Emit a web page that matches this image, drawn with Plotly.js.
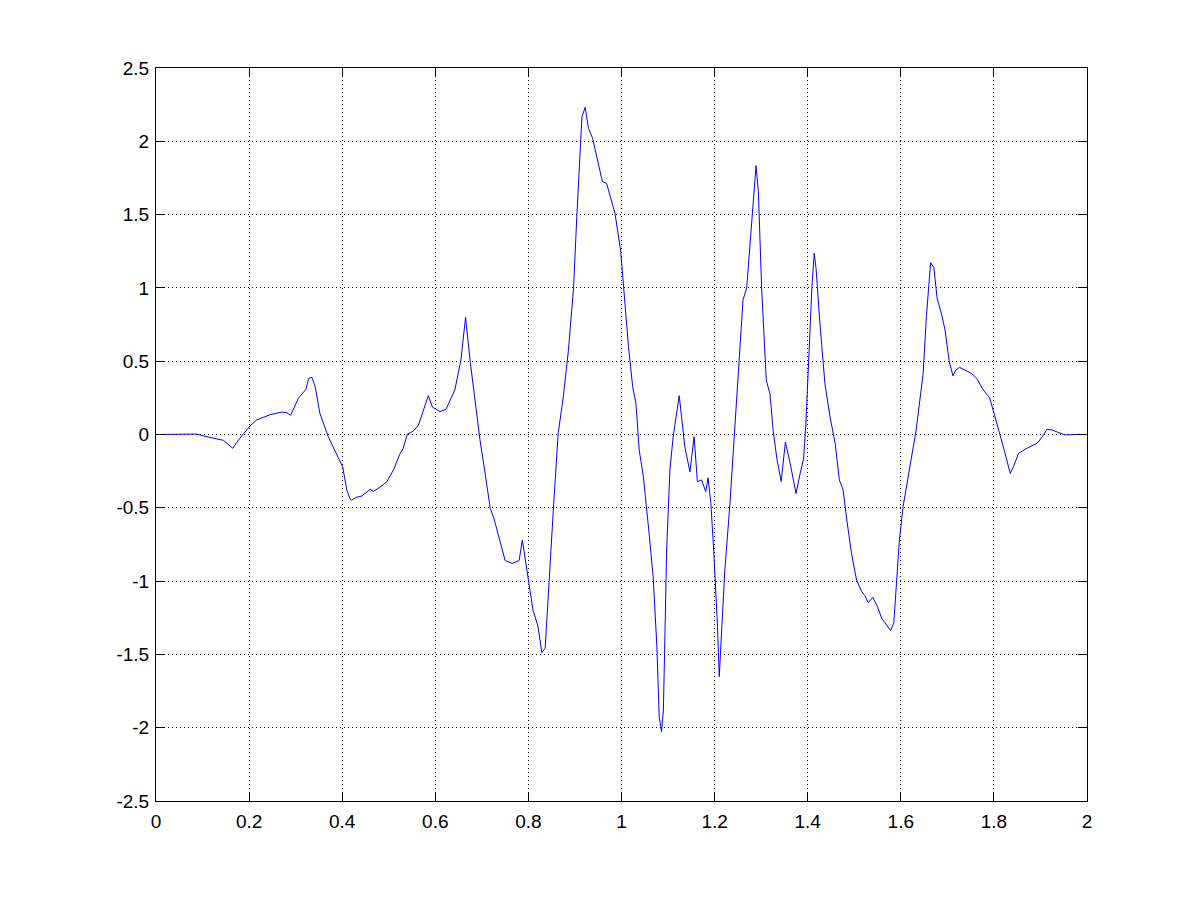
<!DOCTYPE html>
<html>
<head>
<meta charset="utf-8">
<script src="https://cdn.plot.ly/plotly-3.0.1.min.js"></script>
<style>
  html, body { margin: 0; padding: 0; background: #fff; }
  #graph-container { width: 1201px; height: 901px; }
</style>
</head>
<body>
<div id="graph-container"></div>
<script>
// signal samples
const timeVals = [
    0, 0.03, 0.066, 0.087, 0.116, 0.145, 0.165, 0.180, 0.202, 0.216,
    0.245, 0.270, 0.281, 0.289, 0.306, 0.322, 0.328, 0.335, 0.342, 0.352,
    0.370, 0.388, 0.401, 0.410, 0.417, 0.420, 0.431, 0.442, 0.460, 0.467,
    0.481, 0.496, 0.510, 0.524, 0.531, 0.540, 0.553, 0.564, 0.574, 0.585,
    0.594, 0.610, 0.623, 0.642, 0.655, 0.665, 0.675, 0.685, 0.696, 0.707,
    0.718, 0.726, 0.740, 0.750, 0.765, 0.780, 0.787, 0.800, 0.810, 0.820,
    0.825, 0.829, 0.836, 0.843, 0.854, 0.864, 0.875, 0.886, 0.897, 0.904,
    0.915, 0.922, 0.929, 0.938, 0.948, 0.959, 0.968, 0.982, 0.986, 0.998,
    1.005, 1.015, 1.024, 1.031, 1.038, 1.047, 1.060, 1.068, 1.076, 1.081,
    1.086, 1.090, 1.097, 1.104, 1.111, 1.124, 1.136, 1.147, 1.156, 1.163,
    1.172, 1.181, 1.186, 1.192, 1.198, 1.206, 1.210, 1.213, 1.222, 1.233,
    1.247, 1.261, 1.269, 1.280, 1.289, 1.294, 1.301, 1.311, 1.319, 1.326,
    1.334, 1.343, 1.352, 1.362, 1.375, 1.384, 1.391, 1.396, 1.401, 1.409,
    1.414, 1.418, 1.426, 1.437, 1.448, 1.459, 1.468, 1.476, 1.484, 1.494,
    1.505, 1.516, 1.523, 1.530, 1.540, 1.550, 1.559, 1.568, 1.578, 1.585,
    1.591, 1.597, 1.605, 1.620, 1.633, 1.648, 1.655, 1.664, 1.671, 1.678,
    1.688, 1.695, 1.704, 1.712, 1.717, 1.726, 1.738, 1.752, 1.763, 1.777,
    1.791, 1.802, 1.813, 1.824, 1.835, 1.842, 1.853, 1.871, 1.893, 1.904,
    1.914, 1.925, 1.936, 1.953, 1.979, 2.0
];
const signalVals = [
    0, 0.0, 0.003, 0.003, -0.02, -0.04, -0.094, -0.026, 0.058, 0.099,
    0.135, 0.153, 0.149, 0.131, 0.247, 0.308, 0.383, 0.390, 0.326, 0.145,
    -0.015, -0.14, -0.22, -0.38, -0.44, -0.447, -0.428, -0.42, -0.374, -0.388,
    -0.36, -0.322, -0.242, -0.133, -0.094, 0.003, 0.024, 0.065, 0.156, 0.265,
    0.186, 0.156, 0.172, 0.304, 0.508, 0.80, 0.497, 0.235, -0.037, -0.265,
    -0.503, -0.572, -0.75, -0.86, -0.88, -0.86, -0.72, -1.0, -1.2, -1.3,
    -1.425, -1.488, -1.458, -1.06, -0.49, 0.008, 0.258, 0.575, 1.0, 1.486,
    2.168, 2.232, 2.089, 2.02, 1.872, 1.724, 1.713, 1.566, 1.509, 1.258,
    0.986, 0.6, 0.326, 0.213, -0.106, -0.288, -0.697, -0.97, -1.447, -1.925,
    -2.027, -1.88, -0.788, -0.242, -0.015, 0.265, -0.083, -0.254, -0.015, -0.322,
    -0.31, -0.39, -0.295, -0.47, -0.788, -1.288, -1.652, -1.447, -0.924, -0.47,
    0.19, 0.917, 1.002, 1.471, 1.834, 1.658, 1.002, 0.370, 0.276, 0.019,
    -0.169, -0.321, -0.052, -0.192, -0.403, -0.262, -0.169, 0.066, 0.44, 1.002,
    1.237, 1.131, 0.768, 0.347, 0.12, -0.06, -0.31, -0.378, -0.583, -0.81,
    -0.993, -1.072, -1.10, -1.147, -1.111, -1.175, -1.254, -1.293, -1.338, -1.284,
    -0.993, -0.72, -0.49, -0.2, 0.031, 0.417, 0.804, 1.172, 1.14, 0.929,
    0.815, 0.713, 0.5, 0.40, 0.435, 0.458, 0.44, 0.417, 0.383, 0.304,
    0.25, 0.127, -0.01, -0.128, -0.265, -0.22, -0.128, -0.094, -0.06, -0.015,
    0.035, 0.031, 0.017, -0.003, 0.001, 0
];
const xTicks = [0, 0.2, 0.4, 0.6, 0.8, 1, 1.2, 1.4, 1.6, 1.8, 2];
const yTicks = [-2.5, -2, -1.5, -1, -0.5, 0, 0.5, 1, 1.5, 2, 2.5];

function axisStyle(ticks, range, standoff) {
    return {
        range: range,
        tickmode: 'array',
        tickvals: ticks,
        ticktext: ticks.map(String),
        ticks: 'inside',
        ticklen: 9,
        tickcolor: '#000',
        ticklabelstandoff: standoff,
        showline: true,
        linecolor: '#000',
        linewidth: 1,
        mirror: 'allticks',
        showgrid: true,
        gridcolor: '#000',
        gridwidth: 1,
        griddash: '1px,3px',
        zeroline: false,
        tickfont: {family: 'Liberation Sans, Arial, sans-serif', size: 19, color: '#000'}
    };
}

function createSignalGraph() {
    const trace = {
        x: timeVals,
        y: signalVals,
        type: 'scatter',
        mode: 'lines',
        line: {color: '#0000ff', width: 1},
        hoverinfo: 'none'
    };

    const layout = {
        width: 1201,
        height: 901,
        margin: {l: 156, r: 114, t: 68, b: 100},
        paper_bgcolor: '#fff',
        plot_bgcolor: '#fff',
        showlegend: false,
        xaxis: axisStyle(xTicks, [0, 2], 3),
        yaxis: axisStyle(yTicks, [-2.5, 2.5], 2)
    };

    Plotly.newPlot('graph-container', [trace], layout, {staticPlot: true});
}

window.addEventListener('DOMContentLoaded', createSignalGraph);
</script>
</body>
</html>
